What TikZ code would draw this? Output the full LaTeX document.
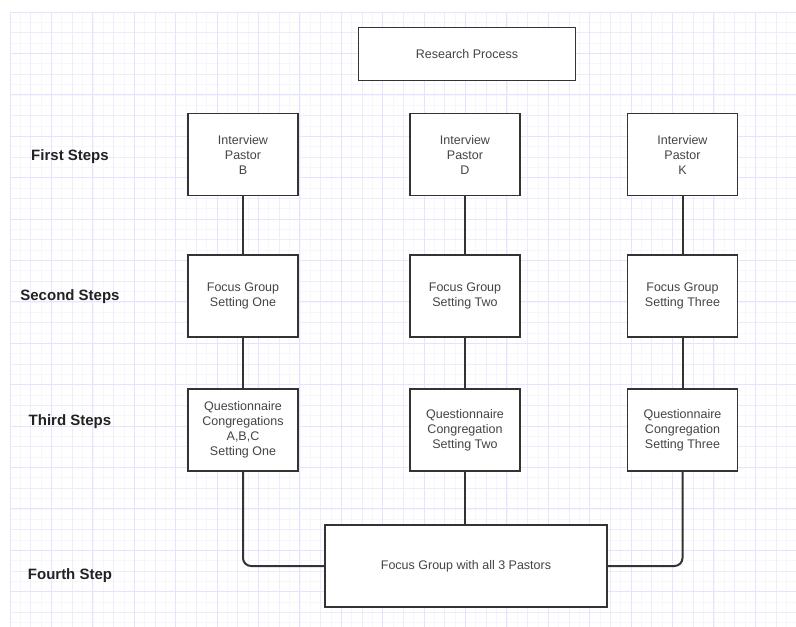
\documentclass[tikz,border=0pt]{standalone}
\usepackage{fontspec}
\setmainfont{Liberation Sans}
\begin{document}
\begin{tikzpicture}[x=1pt,y=-1pt,
  gridfaint/.style={draw={rgb,255:red,246;green,246;blue,255},line width=0.6pt},
  gridmid/.style={draw={rgb,255:red,236;green,236;blue,255},line width=0.8pt},
  gridmajor/.style={draw={rgb,255:red,228;green,228;blue,255},line width=1pt},
  stepbox/.style={draw={rgb,255:red,51;green,51;blue,51},line width=1.6pt,fill=white,
    minimum width=110pt,minimum height=82pt,inner sep=2pt,align=center,
    font=\fontsize{12.5}{15}\selectfont,text={rgb,255:red,68;green,68;blue,68}},
  steplabel/.style={font=\fontsize{15}{18}\selectfont\bfseries,text={rgb,255:red,34;green,34;blue,34}},
  link/.style={draw={rgb,255:red,51;green,51;blue,51},line width=2pt,rounded corners=8pt}
]
\useasboundingbox (0,0) rectangle (796,627);
\fill[white] (0,0) rectangle (796,627);
% grid
\foreach \i in {0,...,75} {\draw[gridfaint] (10+\i*10.35,12) -- (10+\i*10.35,627);}
\foreach \i in {0,...,59} {\draw[gridfaint] (10,12+\i*10.35) -- (796,12+\i*10.35);}
\foreach \i in {0,...,37} {\draw[gridmid] (10+\i*20.7,12) -- (10+\i*20.7,627);}
\foreach \i in {0,...,29} {\draw[gridmid] (10,12+\i*20.7) -- (796,12+\i*20.7);}
\foreach \i in {0,...,18} {\draw[gridmajor] (10+\i*41.4,12) -- (10+\i*41.4,627);}
\foreach \i in {0,...,14} {\draw[gridmajor] (10,12+\i*41.4) -- (796,12+\i*41.4);}

% title
\node[stepbox,minimum width=217pt,minimum height=53pt] (title) at (467,54) {Research Process};

% row labels
\node[steplabel] (l1) at (70,157) {First Steps};
\node[steplabel] (l2) at (70,297) {Second Steps};
\node[steplabel] (l3) at (70,422) {Third Steps};
\node[steplabel] (l4) at (70,576) {Fourth Step};

% boxes
\node[stepbox] (b1) at (243,154.5) {Interview\\Pastor\\B};
\node[stepbox] (d1) at (465,154.5) {Interview\\Pastor\\D};
\node[stepbox] (k1) at (682.5,154.5) {Interview\\Pastor\\K};

\node[stepbox] (b2) at (243,296) {Focus Group\\Setting One};
\node[stepbox] (d2) at (465,296) {Focus Group\\Setting Two};
\node[stepbox] (k2) at (682.5,296) {Focus Group\\Setting Three};

\node[stepbox] (b3) at (243,430) {Questionnaire\\Congregations\\A,B,C\\Setting One};
\node[stepbox] (d3) at (465,430) {Questionnaire\\Congregation\\Setting Two};
\node[stepbox] (k3) at (682.5,430) {Questionnaire\\Congregation\\Setting Three};

\node[stepbox,minimum width=282pt,minimum height=82pt] (f) at (466,566) {Focus Group with all 3 Pastors};

% connectors
\draw[link] (b1.south) -- (b2.north);
\draw[link] (d1.south) -- (d2.north);
\draw[link] (k1.south) -- (k2.north);
\draw[link] (b2.south) -- (b3.north);
\draw[link] (d2.south) -- (d3.north);
\draw[link] (k2.south) -- (k3.north);
\draw[link] (b3.south) |- (f.west);
\draw[link] (d3.south) -- (d3.south |- f.north);
\draw[link] (k3.south) |- (f.east);
\end{tikzpicture}
\end{document}
